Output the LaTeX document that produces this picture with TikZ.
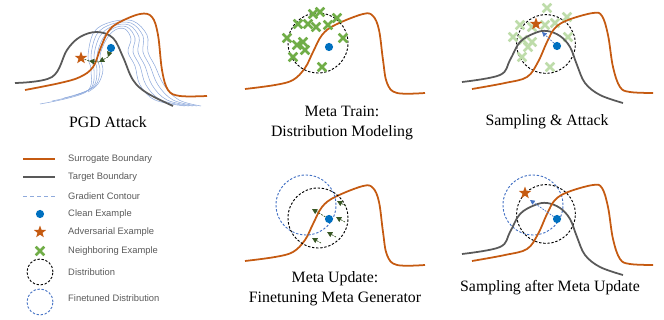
\documentclass[tikz,border=0pt]{standalone}
\usepackage{fontspec}
\setmainfont{Liberation Serif}
\setsansfont{Liberation Sans}
\usetikzlibrary{arrows.meta,shapes.geometric,shapes.misc}
\definecolor{surcol}{RGB}{197,90,17}
\definecolor{tarcol}{RGB}{89,89,89}
\definecolor{gradcol}{RGB}{143,170,220}
\definecolor{cleancol}{RGB}{0,112,192}
\definecolor{nbcol}{RGB}{112,173,71}
\definecolor{nbfade}{RGB}{190,220,170}
\definecolor{ftcol}{RGB}{68,114,196}
\definecolor{arrcol}{RGB}{55,86,35}
\definecolor{legcol}{RGB}{90,90,90}
\begin{document}
\begin{tikzpicture}[x=0.03cm,y=-0.03cm,
  sur/.style={surcol,line width=1.5pt},
  tar/.style={tarcol,line width=1.5pt},
  grad/.style={gradcol,line width=0.45pt},
  clean/.style={circle,fill=cleancol,minimum size=7pt,inner sep=0pt},
  adv/.style={star,star points=5,star point ratio=2.4,fill=surcol,minimum size=11pt,inner sep=0pt},
  nbr/.style={cross out,draw=nbcol,line width=2.3pt,minimum size=5pt,inner sep=0pt},
  nbrfade/.style={nbr,draw=nbfade},
  distr/.style={black,line width=0.8pt,dash pattern=on 2pt off 1.5pt},
  ftdistr/.style={ftcol,line width=0.8pt,dash pattern=on 2pt off 1.5pt},
  steparr/.style={arrcol,line width=0.6pt,dash pattern=on 1.5pt off 1pt,-{Triangle[length=4.5pt,width=4.5pt]}},
  atkarr/.style={ftcol,line width=0.6pt,dash pattern=on 1.5pt off 1pt,-{Triangle[length=4pt,width=4pt]}},
  captxt/.style={font=\fontsize{13.5}{17}\selectfont,align=center},
  legtxt/.style={font=\sffamily\fontsize{8}{9}\selectfont,text=legcol,anchor=west,inner sep=0pt}]
\useasboundingbox (0,0) rectangle (664,320);
% PGD attack
\foreach \i in {0,...,4}
  \draw[grad] plot[smooth,tension=0.6] coordinates {(88-12*\i,92+3*\i) (98-3*\i,84+2*\i) (103-3*\i,70) (100-3*\i,56)
    (106-3*\i,40-2*\i) (115-\i,30-2*\i) (125+2*\i,29-2*\i) (131+4*\i,39-\i) (128+5*\i,52) (135+5*\i,66)
    (140+6*\i,85) (155+6*\i,100) (185+4*\i,106)};
\draw[tar] plot[smooth,tension=0.6] coordinates {(15,83) (52,77) (67,50) (80,37) (97,32) (113,38) (123,57) (133,80) (147,93) (173,106)};
\draw[sur] plot[smooth,tension=0.6] coordinates {(25,90) (60,83) (80,77) (93,67) (101,47) (108,32) (118,23) (140,14) (152,17) (158,35) (162,70) (168,90) (180,96) (207,96)};
\node[clean] (cleanA) at (111,48) {};
\node[adv] (advA) at (81,58) {};
\coordinate (pgdA) at (108,57);
\coordinate (pgdB) at (99,62);
\coordinate (pgdC) at (89,61);
\draw[steparr] (cleanA) -- (pgdA);
\draw[steparr] (pgdA) -- (pgdB);
\draw[steparr] (pgdB) -- (pgdC);
\draw[arrcol,line width=0.6pt,dash pattern=on 1.5pt off 1pt] (pgdC) -- (advA);
\node[captxt] (capA) at (108,122) {PGD Attack};
% meta train
\draw[sur] plot[smooth,tension=0.6] coordinates {(245,89) (275,85) (293,80) (305,68) (313,52) (322,35) (335,25) (363,14) (373,16) (379,30) (383,60) (387,83) (397,93) (425,93)};
\draw[distr] (318,43) circle[radius=0.9cm];
\foreach \p in {(313,14),(320,12),(298,24),(308,24),(316,27),(328,25),(337,18),(343,38),(287,38),(297,45),(303,42),(305,50),(293,57),(322,67)}
  \node[nbr] at \p {};
\node[clean] (cleanB) at (329,47) {};
\node[captxt] (capB) at (342,123) {Meta Train:\\Distribution Modeling};
% sampling and attack
\draw[distr] (546,44) circle[radius=0.88cm];
\foreach \p in {(547,8),(567,17),(520,25),(532,27),(545,25),(555,23),(513,37),(523,40),(532,42),(528,47),(522,57),(550,67),(568,37)}
  \node[nbrfade] at \p {};
\draw[tar] plot[smooth,tension=0.6] coordinates {(462,82) (500,75) (510,60) (520,42) (535,33) (547,31) (560,36) (570,47) (577,65) (585,83) (600,95) (623,103)};
\draw[sur] plot[smooth,tension=0.6] coordinates {(472,89) (505,83) (527,77) (538,62) (547,42) (555,28) (568,20) (593,13) (602,16) (608,35) (613,67) (620,87) (630,92) (653,93)};
\node[clean] (cleanC) at (557,46) {};
\node[adv] (advC) at (536,24) {};
\coordinate (atkC) at (542,32);
\draw[atkarr] (cleanC) -- (atkC);
\node[captxt] (capC) at (547,122) {Sampling \& Attack};
% meta update
\begin{scope}[shift={(0,172)}]
\draw[sur] plot[smooth,tension=0.6] coordinates {(245,89) (275,85) (293,80) (305,68) (313,52) (322,35) (335,25) (363,14) (373,16) (379,30) (383,60) (387,83) (397,93) (425,93)};
\end{scope}
\draw[ftdistr] (306,205) circle[radius=0.9cm];
\draw[distr] (318,218) circle[radius=0.9cm];
\node[clean] (cleanD) at (329,219) {};
\coordinate (updD) at (312,209);
\draw[steparr] (cleanD) -- (updD);
\foreach \hx/\hy in {337/201,336/217,327/232,312/238}
  \draw[steparr] (\hx+9,\hy+5) -- (\hx,\hy);
\node[captxt] (capD) at (335,289) {Meta Update:\\Finetuning Meta Generator};
% sampling after meta update
\draw[ftdistr] (533,205) circle[radius=0.9cm];
\draw[distr] (546,214) circle[radius=0.88cm];
\begin{scope}[shift={(0,172)}]
\draw[tar] plot[smooth,tension=0.6] coordinates {(462,82) (500,75) (510,60) (520,42) (535,33) (547,31) (560,36) (570,47) (577,65) (585,83) (600,95) (623,103)};
\draw[sur] plot[smooth,tension=0.6] coordinates {(472,89) (505,83) (527,77) (538,62) (547,42) (555,28) (568,20) (593,13) (602,16) (608,35) (613,67) (620,87) (630,92) (653,93)};
\end{scope}
\node[clean] (cleanE) at (557,219) {};
\node[adv] (advE) at (525,193) {};
\coordinate (atkE) at (530,200);
\draw[atkarr] (cleanE) -- (atkE);
\node[captxt] (capE) at (550,288) {Sampling after Meta Update};
% legend
\draw[sur] (23,159) -- (55,159);
\draw[tar] (23,177) -- (55,177);
\draw[grad,dashed] (23,196) -- (55,196);
\node[clean] (legClean) at (40,214) {};
\node[adv] (legAdv) at (40,232) {};
\node[nbr] (legNbr) at (40,251) {};
\draw[distr] (40,272) circle[radius=0.39cm];
\draw[ftdistr] (40,302) circle[radius=0.39cm];
\node[legtxt] at (68,159) {Surrogate Boundary};
\node[legtxt] at (68,177) {Target Boundary};
\node[legtxt] at (68,196) {Gradient Contour};
\node[legtxt] at (68,214) {Clean Example};
\node[legtxt] at (68,232) {Adversarial Example};
\node[legtxt] at (68,251) {Neighboring Example};
\node[legtxt] at (68,272) {Distribution};
\node[legtxt] at (68,298) {Finetuned Distribution};
\end{tikzpicture}
\end{document}
